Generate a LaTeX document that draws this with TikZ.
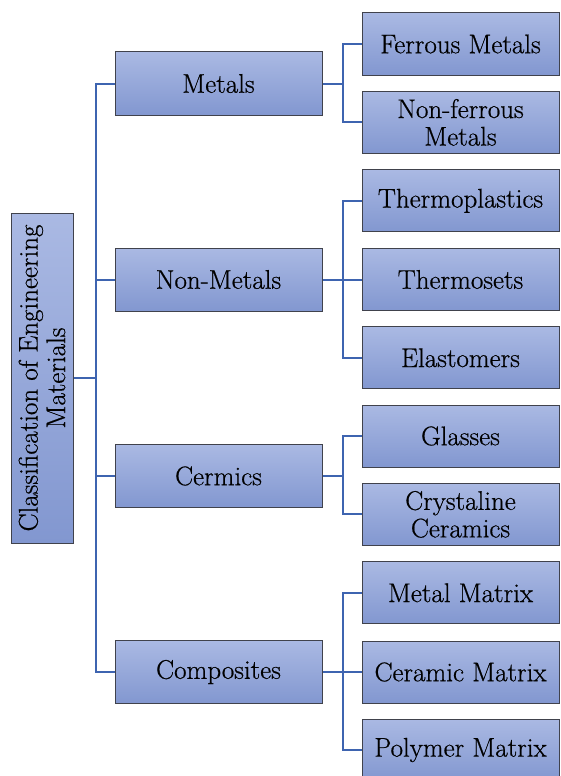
\documentclass[tikz,border=0pt]{standalone}
\usepackage{fontspec}
\newfontfamily\heavyrm{Latin Modern Roman}[FakeBold=0.6]
\definecolor{boxtop}{RGB}{170,185,227}
\definecolor{boxbot}{RGB}{130,151,208}
\definecolor{boxline}{RGB}{64,66,76}
\definecolor{connc}{RGB}{62,100,176}
\begin{document}
\begin{tikzpicture}[x=1pt,y=-1pt,
  box/.style={rectangle, draw=boxline, line width=1pt, top color=boxtop, bottom color=boxbot,
    inner sep=0pt, align=center, font=\heavyrm\fontsize{27}{27.5}\selectfont},
  midbox/.style={box, minimum width=207pt, minimum height=63pt},
  leafbox/.style={box, minimum width=197pt, minimum height=62pt},
  conn/.style={draw=connc, line width=2pt}]
\useasboundingbox (0,0) rectangle (561,776);
% root
\node[box, rotate=90, minimum width=330pt, minimum height=62pt] (root) at (42,378)
  {Classification of Engineering\\Materials};
% middle level
\node[midbox] (metals) at (218.5,83.5) {Metals};
\node[midbox] (nonmetals) at (218.5,279.5) {Non-Metals};
\node[midbox] (cermics) at (218.5,476) {Cermics};
\node[midbox] (composites) at (218.5,672) {Composites};
% leaves
\node[leafbox] (ferrous) at (460.5,44) {Ferrous Metals};
\node[leafbox] (nonferrous) at (460.5,122.4) {Non-ferrous\\Metals};
\node[leafbox] (thermoplastics) at (460.5,200.8) {Thermoplastics};
\node[leafbox] (thermosets) at (460.5,279.5) {Thermosets};
\node[leafbox] (elastomers) at (460.5,357.8) {Elastomers};
\node[leafbox] (glasses) at (460.5,436) {Glasses};
\node[leafbox] (crystaline) at (460.5,514.4) {Crystaline\\Ceramics};
\node[leafbox] (metalmatrix) at (460.5,592.8) {Metal Matrix};
\node[leafbox] (ceramicmatrix) at (460.5,672) {Ceramic Matrix};
\node[leafbox] (polymermatrix) at (460.5,750) {Polymer Matrix};
% root connectors
\path (root.south) ++(22,0) coordinate (t);
\draw[conn] (root.south) -- (t);
\foreach \m in {metals,nonmetals,cermics,composites}
  \draw[conn] (\m.west) -| (t);
% metals
\path (metals.east) ++(20,0) coordinate (jm);
\draw[conn] (metals.east) -- (jm);
\draw[conn] (ferrous.west) -| (jm);
\draw[conn] (nonferrous.west) -| (jm);
% non-metals
\path (nonmetals.east) ++(20,0) coordinate (jn);
\draw[conn] (nonmetals.east) -- (thermosets.west);
\draw[conn] (thermoplastics.west) -| (jn);
\draw[conn] (elastomers.west) -| (jn);
% cermics
\path (cermics.east) ++(20,0) coordinate (jc);
\draw[conn] (cermics.east) -- (jc);
\draw[conn] (glasses.west) -| (jc);
\draw[conn] (crystaline.west) -| (jc);
% composites
\path (composites.east) ++(20,0) coordinate (jp);
\draw[conn] (composites.east) -- (ceramicmatrix.west);
\draw[conn] (metalmatrix.west) -| (jp);
\draw[conn] (polymermatrix.west) -| (jp);
\end{tikzpicture}
\end{document}
